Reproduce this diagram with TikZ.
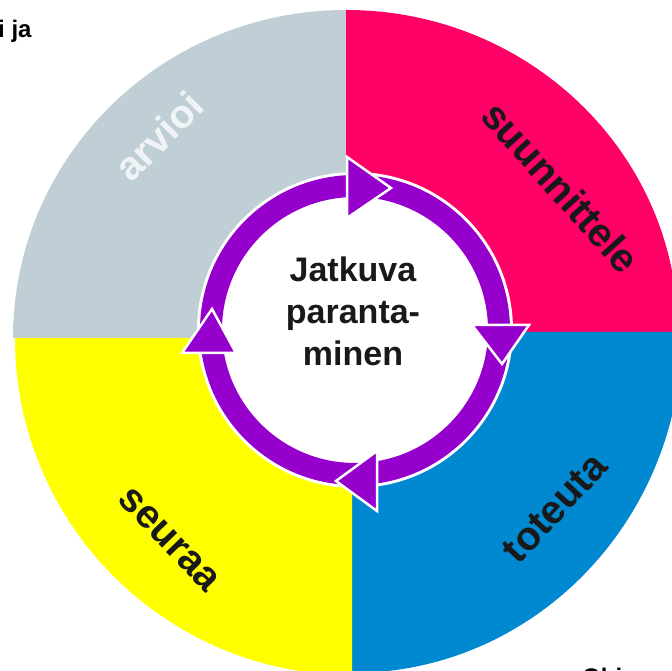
\documentclass[tikz,border=0pt]{standalone}
\usepackage{fontspec}
\setmainfont{Liberation Sans}
\definecolor{qgray}{RGB}{192,206,214}
\definecolor{qpink}{RGB}{255,0,102}
\definecolor{qblue}{RGB}{0,137,209}
\definecolor{qyellow}{RGB}{255,255,0}
\definecolor{ringpurple}{RGB}{150,0,204}
\definecolor{softwhite}{RGB}{240,244,246}
\definecolor{inkblack}{RGB}{25,25,25}
\begin{document}
\begin{tikzpicture}[x=1pt,y=1pt,
  lbl/.style={font=\fontsize{40}{40}\selectfont\bfseries, inner sep=0pt, text=inkblack},
  ctext/.style={font=\fontsize{34}{34}\selectfont\bfseries, inner sep=0pt, text=inkblack, anchor=base},
  cornertext/.style={font=\fontsize{24}{24}\selectfont\bfseries, inner sep=0pt, anchor=base west, text=black},
  arrowtri/.style={fill=ringpurple, draw=white, line width=2.5pt, line join=miter}]
\useasboundingbox (0,0) rectangle (672,671);
% quadrants
\fill[qgray]   (346,333) -- (13,333) arc[start angle=180,end angle=90,x radius=333,y radius=328] -- cycle;
\fill[qpink]   (346,339) -- (346,661) arc[start angle=90,end angle=0,x radius=332,y radius=322] -- cycle;
\fill[qblue]   (352,339) -- (682,339) arc[start angle=0,end angle=-90,x radius=330,y radius=341] -- cycle;
\fill[qyellow] (352,333) -- (352,-4) arc[start angle=270,end angle=180,x radius=337,y radius=337] -- cycle;
% centre disc and ring
\coordinate (c) at (355,341);
\fill[white] (c) circle[radius=158];
\fill[ringpurple, even odd rule] (c) circle[radius=155] (c) circle[radius=133];
% arrowheads
\coordinate (ta) at (347,514); \coordinate (tb) at (347,453); \coordinate (tc) at (391,483);
\coordinate (ra) at (472,346); \coordinate (rb) at (529,346); \coordinate (rc) at (502,307);
\coordinate (ba) at (377,220); \coordinate (bb) at (377,160); \coordinate (bc) at (336,190);
\coordinate (la) at (182,318); \coordinate (lb) at (236,318); \coordinate (lc) at (212,362);
\filldraw[arrowtri] (ta) -- (tb) -- (tc) -- cycle;
\filldraw[arrowtri] (ra) -- (rb) -- (rc) -- cycle;
\filldraw[arrowtri] (ba) -- (bb) -- (bc) -- cycle;
\filldraw[arrowtri] (la) -- (lb) -- (lc) -- cycle;
% centre text
\node[ctext] (t1) at (353,389) {Jatkuva};
\node[ctext] (t2) at (353,347) {paranta-};
\node[ctext] (t3) at (353,305) {minen};
% quadrant labels
\node[lbl, text=softwhite, rotate=45] (arvioi) at (159,535) {arvioi};
\node[lbl, rotate=-48] (suunnittele) at (561,484) {suunnittele};
\node[lbl, rotate=47] (toteuta) at (555,163) {toteuta};
\node[lbl, rotate=-46] (seuraa) at (169,131) {seuraa};
% cut-off texts
\node[cornertext] (ija) at (-2,633) {i ja};
\node[cornertext] (ohj) at (582,-15) {Ohj};
\end{tikzpicture}
\end{document}
